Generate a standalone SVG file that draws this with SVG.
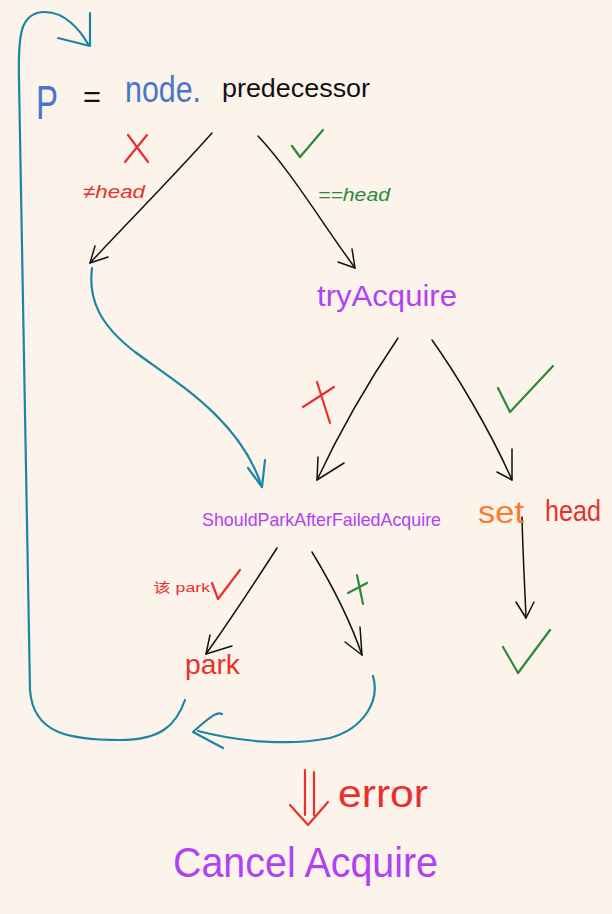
<svg xmlns="http://www.w3.org/2000/svg" width="612" height="914" viewBox="0 0 612 914">
<style>
  text { font-family: "Liberation Sans", "Noto Sans CJK SC", sans-serif; }
  .blk { stroke: #111; stroke-width: 1.5; fill: none; stroke-linecap: round; stroke-linejoin: round; }
  .teal { stroke: #1A86A6; stroke-width: 2.2; fill: none; stroke-linecap: round; stroke-linejoin: round; }
  .mk { stroke-width: 2.2; fill: none; stroke-linecap: round; stroke-linejoin: round; }
  .red { fill: #E8302E; }
  .grn { fill: #2A8A3A; }
  .pur { fill: #B042F2; }
  .blu { fill: #4A76C8; }
</style>
<rect width="612" height="914" fill="#FCF3EA"/>

<g id="connectors">
  <!-- loop back to top -->
  <path class="teal" d="M185,700 C176,726 160,740 120,740 C70,740 33,734 30,690 C25,500 22,300 19,80 C18,35 20,12 45,12 C65,12 80,30 88,44"/>
  <path class="teal" d="M90,13 L90,46 L58,38"/>
  <!-- p != head to shouldPark -->
  <path class="teal" d="M92,268 C88,300 100,325 135,352 C180,385 240,420 262,487"/>
  <path class="teal" d="M248,468 L262,487 L265,460"/>
  <!-- not park back -->
  <path class="teal" d="M373,676 C380,700 365,728 330,738 C290,746 240,742 198,731"/>
  <path class="teal" d="M222,714 C218,712 214,713 193,732 L223,748"/>
  <!-- black arrows -->
  <path class="blk" d="M212,133 C170,180 130,220 90,263"/>
  <path class="blk" d="M95,246 L90,263 L108,257"/>
  <path class="blk" d="M258,136 C290,170 320,220 355,268"/>
  <path class="blk" d="M338,262 L355,268 L352,249"/>
  <path class="blk" d="M398,338 C375,372 345,420 317,480"/>
  <path class="blk" d="M318,457 L317,480 L344,463"/>
  <path class="blk" d="M432,340 C455,372 490,430 512,480"/>
  <path class="blk" d="M497,472 L512,480 L512,449"/>
  <path class="blk" d="M277,548 C250,590 230,620 206,654"/>
  <path class="blk" d="M210,635 L206,654 L232,646"/>
  <path class="blk" d="M312,552 C335,590 350,620 362,655"/>
  <path class="blk" d="M345,642 L362,655 L360,627"/>
  <path class="blk" d="M522,517 C523,560 525,590 526,618"/>
  <path class="blk" d="M516,602 L526,618 L534,602"/>
  <!-- error double arrow -->
  <path class="mk" stroke="#E8302E" d="M305,770 L305,815 M314,772 L314,815 M290,805 L308,825 L328,802"/>
</g>

<g id="node-predecessor">
  <text x="36" y="119" font-size="48" class="blu" textLength="22" lengthAdjust="spacingAndGlyphs">P</text>
  <text x="83" y="107" font-size="30" fill="#111" textLength="18" lengthAdjust="spacingAndGlyphs">=</text>
  <text x="125" y="102" font-size="36" class="blu" textLength="76" lengthAdjust="spacingAndGlyphs">node.</text>
  <text x="222" y="97" font-size="26" fill="#111" textLength="148" lengthAdjust="spacingAndGlyphs">predecessor</text>
</g>

<g id="label-not-head">
  <path class="mk" stroke="#E8302E" d="M128,135 L148,162 M147,135 L125,162"/>
  <text x="83" y="198" font-size="19" font-style="italic" class="red" textLength="62" lengthAdjust="spacingAndGlyphs">≠head</text>
</g>

<g id="label-is-head">
  <path class="mk" stroke="#2A8A3A" d="M292,146 L300,157 L323,130"/>
  <text x="318" y="201" font-size="19" font-style="italic" class="grn" textLength="72" lengthAdjust="spacingAndGlyphs">==head</text>
</g>

<g id="node-tryAcquire">
  <text x="317" y="306" font-size="30" class="pur" textLength="140" lengthAdjust="spacingAndGlyphs">tryAcquire</text>
</g>

<g id="label-try-fail">
  <path class="mk" stroke="#E8302E" d="M303,407 L334,387 M317,382 L330,423"/>
</g>

<g id="label-try-ok">
  <path class="mk" stroke="#2A8A3A" d="M498,388 L510,412 L553,366"/>
</g>

<g id="node-shouldPark">
  <text x="202" y="526" font-size="19" class="pur" textLength="239" lengthAdjust="spacingAndGlyphs">ShouldParkAfterFailedAcquire</text>
</g>

<g id="node-setHead">
  <text x="478" y="523" font-size="32" fill="#FF7A2F" textLength="46" lengthAdjust="spacingAndGlyphs">set</text>
  <text x="545" y="521" font-size="30" class="red" textLength="56" lengthAdjust="spacingAndGlyphs">head</text>
</g>

<g id="label-should-park">
  <text x="153" y="592" font-size="13" class="red" textLength="57" lengthAdjust="spacingAndGlyphs">该 park</text>
  <path class="mk" stroke="#E8302E" d="M212,583 L218,599 L240,570"/>
</g>

<g id="label-no-park">
  <path class="mk" stroke="#2A8A3A" d="M348,593 L367,583 M357,575 L363,604"/>
</g>

<g id="node-park">
  <text x="185" y="674" font-size="28" class="red" textLength="55" lengthAdjust="spacingAndGlyphs">park</text>
</g>

<g id="node-success">
  <path class="mk" stroke="#2A8A3A" stroke-width="2.6" d="M503,647 L518,673 L550,630"/>
</g>

<g id="label-error">
  <text x="338" y="807" font-size="38" class="red" textLength="90" lengthAdjust="spacingAndGlyphs">error</text>
</g>

<g id="node-cancelAcquire">
  <text x="173" y="877" font-size="42" class="pur" textLength="265" lengthAdjust="spacingAndGlyphs">Cancel Acquire</text>
</g>
</svg>
